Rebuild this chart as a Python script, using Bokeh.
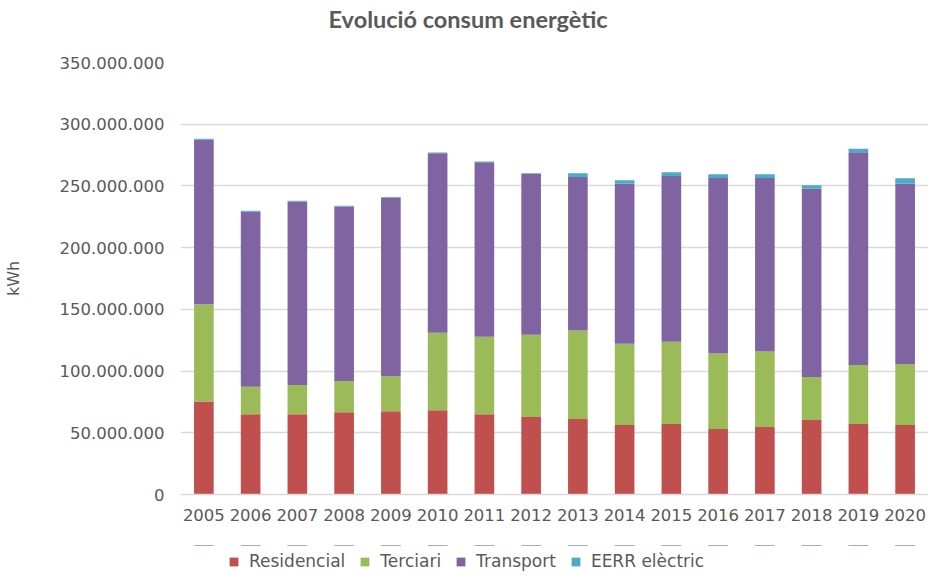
from bokeh.plotting import figure
from bokeh.layouts import column
from bokeh.models import (ColumnDataSource, Legend, LegendItem, FixedTicker,
                          CustomJSTickFormatter, Range1d)
from bokeh.embed import file_html
from bokeh.resources import INLINE

# ---- data ----
years = ["2005", "2006", "2007", "2008", "2009", "2010", "2011", "2012",
         "2013", "2014", "2015", "2016", "2017", "2018", "2019", "2020"]
residencial = [75.4e6, 65.1e6, 65.1e6, 66.7e6, 67.5e6, 68.3e6, 65.1e6, 62.7e6,
               61.1e6, 56.3e6, 57.1e6, 53.1e6, 54.7e6, 60.3e6, 57.1e6, 56.3e6]
terciari = [78.7e6, 22.1e6, 23.7e6, 25.2e6, 28.4e6, 62.7e6, 62.7e6, 66.7e6,
            71.8e6, 65.9e6, 66.7e6, 61.2e6, 61.2e6, 34.8e6, 47.9e6, 49.4e6]
transport = [133.5e6, 142.1e6, 148.5e6, 141.4e6, 144.6e6, 145.4e6, 141.4e6, 130.3e6,
             124.4e6, 129.5e6, 134.3e6, 142.2e6, 140.6e6, 152.6e6, 172.2e6, 146.0e6]
eerr = [0.6e6, 0.6e6, 0.6e6, 0.6e6, 0.6e6, 0.6e6, 0.6e6, 0.6e6,
        2.9e6, 2.9e6, 2.9e6, 2.9e6, 2.9e6, 2.9e6, 2.9e6, 4.5e6]
series_names = ["Residencial", "Terciari", "Transport", "EERR elèctric"]
y_ticks = [0, 50e6, 100e6, 150e6, 200e6, 250e6, 300e6, 350e6]
chart_title = "Evolució consum energètic"
y_title = "kWh"

colors = ["#C0504D", "#9BBB59", "#8064A2", "#4BACC6"]
TXT = "#595959"
FONT = "DejaVu Sans"
W = 928
H_TITLE, H_MAIN, H_LEG = 50, 495, 27
LEFT, TOP, BOTTOM = 177, 12, 51
stack_cols = ["res", "ter", "tra", "eer"]


def bare(fig):
    fig.outline_line_color = None
    fig.background_fill_color = "white"
    fig.border_fill_color = "white"
    return fig


src = ColumnDataSource(dict(year=years, res=residencial, ter=terciari,
                            tra=transport, eer=eerr))

# ---- title strip ----
t = bare(figure(width=W, height=H_TITLE, output_backend="svg", toolbar_location=None,
                x_axis_type=None, y_axis_type=None, min_border=0,
                x_range=Range1d(0, 1), y_range=Range1d(0, 1)))
t.title.text = chart_title
t.title.align = "left"
t.title.offset = 148
t.title.text_font = "Lato"
t.title.text_font_style = "bold"
t.title.text_font_size = "23.5px"
t.title.text_color = TXT
t.title.standoff = 5

# ---- main chart ----
p = bare(figure(x_range=years, y_range=Range1d(0, 350e6), width=W, height=H_MAIN,
                output_backend="svg", toolbar_location=None, title=None,
                min_border_left=LEFT, min_border_right=0, min_border_top=TOP,
                min_border_bottom=BOTTOM))

p.vbar_stack(stack_cols, x="year", width=0.42, color=colors, source=src, line_width=0)

p.xgrid.grid_line_color = None
p.ygrid.grid_line_color = "#D9D9D9"
p.ygrid.grid_line_width = 1.5

p.yaxis.ticker = FixedTicker(ticks=y_ticks)
p.yaxis.formatter = CustomJSTickFormatter(code="""
return Math.round(tick).toString().replace(/\\B(?=(\\d{3})+(?!\\d))/g, '.');
""")
p.yaxis.axis_line_color = None
p.yaxis.major_tick_line_color = None
p.yaxis.minor_tick_line_color = None
p.yaxis.major_label_standoff = 10
p.yaxis.major_label_text_font = FONT
p.yaxis.major_label_text_font_size = "16.5px"
p.yaxis.major_label_text_color = TXT
p.yaxis.axis_label = y_title
p.yaxis.axis_label_standoff = 34
p.yaxis.axis_label_text_font = FONT
p.yaxis.axis_label_text_font_size = "16px"
p.yaxis.axis_label_text_font_style = "normal"
p.yaxis.axis_label_text_color = TXT

p.xaxis.axis_line_color = "#D9D9D9"
p.xaxis.axis_line_width = 1.5
p.xaxis.major_tick_line_color = None
p.xaxis.minor_tick_line_color = None
p.xaxis.major_label_standoff = 8
p.xaxis.major_label_text_font = FONT
p.xaxis.major_label_text_font_size = "16.5px"
p.xaxis.major_label_text_color = TXT

# ---- legend strip (same series, kept well outside its visible range) ----
lg = bare(figure(x_range=years, y_range=Range1d(-2e9, -1e9), width=W, height=H_LEG,
                 output_backend="svg", toolbar_location=None,
                 x_axis_type=None, y_axis_type=None, min_border=0, title=None))
keys = lg.vbar_stack(stack_cols, x="year", width=0.42, color=colors, source=src,
                     line_width=0)
legend = Legend(items=[LegendItem(label=n, renderers=[r]) for n, r in zip(series_names, keys)],
                orientation="horizontal", location=(48, 1),
                glyph_width=11, glyph_height=11, label_standoff=10, spacing=14,
                padding=0, margin=0, border_line_color=None, background_fill_alpha=0,
                label_text_font=FONT, label_text_font_size="17px", label_text_color=TXT,
                label_height=16)
lg.add_layout(legend, "center")

layout = column(t, p, lg, spacing=0)
open("out.html", "w").write(file_html(layout, INLINE))
